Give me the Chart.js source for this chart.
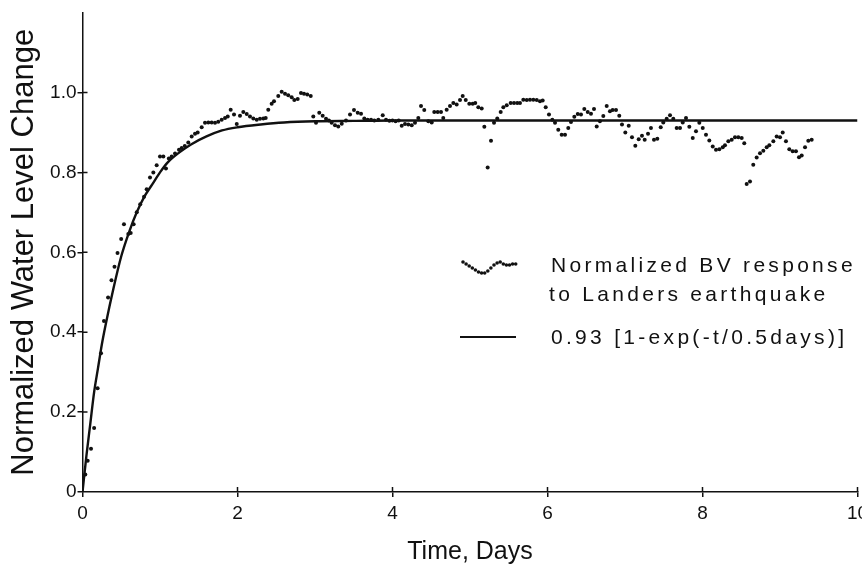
<!DOCTYPE html>
<html>
<head>
<meta charset="utf-8">
<script src="https://cdn.jsdelivr.net/npm/chart.js@4/dist/chart.umd.min.js"></script>
<style>
  html, body { margin: 0; padding: 0; background: #fff; }
  #wrap { width: 862px; height: 567px; }
</style>
</head>
<body>
<div id="wrap"><canvas id="myChart" width="862" height="567"></canvas></div>
<script>
// hourly water level readings (days, normalized)
const bvTime = [
  0.036, 0.067, 0.11, 0.15, 0.195, 0.239, 0.277, 0.33, 0.374, 0.413, 0.452, 0.499, 0.535, 0.591, 0.622,
  0.66, 0.70, 0.745, 0.794, 0.828, 0.871, 0.914, 0.957, 1.0, 1.043, 1.077, 1.114, 1.151, 1.194, 1.245,
  1.28, 1.32, 1.365, 1.409, 1.452, 1.486, 1.538, 1.581, 1.623, 1.667, 1.71, 1.752, 1.796, 1.839, 1.874,
  1.912, 1.955, 1.99, 2.032, 2.075, 2.119, 2.161, 2.204, 2.248, 2.29, 2.333, 2.364, 2.397, 2.441, 2.471,
  2.526, 2.57, 2.613, 2.655, 2.699, 2.733, 2.777, 2.819, 2.858, 2.9, 2.945, 2.978, 3.013, 3.055, 3.099,
  3.142, 3.18, 3.215, 3.258, 3.30, 3.345, 3.40, 3.452, 3.503, 3.551, 3.594, 3.636, 3.68, 3.723, 3.765,
  3.817, 3.874, 3.916, 3.96, 4.0, 4.04, 4.08, 4.119, 4.161, 4.204, 4.248, 4.29, 4.333, 4.368, 4.41,
  4.462, 4.506, 4.539, 4.583, 4.626, 4.655, 4.699, 4.742, 4.785, 4.828, 4.871, 4.906, 4.945, 4.991, 5.035,
  5.068, 5.107, 5.151, 5.185, 5.228, 5.271, 5.31, 5.352, 5.396, 5.43, 5.474, 5.525, 5.568, 5.61, 5.645,
  5.688, 5.732, 5.774, 5.817, 5.861, 5.903, 5.938, 5.977, 6.019, 6.062, 6.097, 6.139, 6.183, 6.226, 6.268,
  6.303, 6.346, 6.39, 6.432, 6.475, 6.519, 6.561, 6.6, 6.635, 6.677, 6.72, 6.764, 6.806, 6.841, 6.884,
  6.926, 6.961, 7.004, 7.048, 7.09, 7.133, 7.177, 7.219, 7.254, 7.297, 7.335, 7.374, 7.417, 7.461, 7.494,
  7.538, 7.581, 7.623, 7.667, 7.71, 7.745, 7.787, 7.83, 7.874, 7.916, 7.959, 8.003, 8.045, 8.088, 8.132,
  8.174, 8.217, 8.261, 8.29, 8.333, 8.377, 8.419, 8.462, 8.506, 8.539, 8.57, 8.613, 8.655, 8.699, 8.742,
  8.785, 8.828, 8.862, 8.914, 8.957, 9.0, 9.035, 9.077, 9.12, 9.164, 9.206, 9.245, 9.28, 9.323, 9.365, 9.409
]
const bvLevel = [
  0.044, 0.078, 0.108, 0.16, 0.26, 0.347, 0.428, 0.487, 0.53, 0.564, 0.598, 0.633, 0.670, 0.646, 0.648,
  0.67, 0.70, 0.72, 0.739, 0.758, 0.787, 0.80, 0.818, 0.84, 0.84, 0.81, 0.835, 0.84, 0.847, 0.857,
  0.861, 0.866, 0.875, 0.89, 0.897, 0.90, 0.913, 0.924, 0.925, 0.925, 0.924, 0.927, 0.932, 0.936, 0.94,
  0.957, 0.945, 0.921, 0.942, 0.951, 0.946, 0.94, 0.935, 0.932, 0.934, 0.935, 0.936, 0.957, 0.972, 0.978,
  0.991, 1.002, 0.997, 0.993, 0.988, 0.981, 0.984, 0.999, 0.997, 0.995, 0.991, 0.94, 0.924, 0.949, 0.942,
  0.934, 0.93, 0.924, 0.918, 0.915, 0.922, 0.93, 0.945, 0.956, 0.949, 0.947, 0.935, 0.932, 0.932, 0.930,
  0.932, 0.943, 0.932, 0.929, 0.93, 0.928, 0.93, 0.917, 0.921, 0.920, 0.918, 0.924, 0.936, 0.966, 0.956,
  0.928, 0.925, 0.951, 0.951, 0.951, 0.936, 0.957, 0.966, 0.974, 0.970, 0.981, 0.991, 0.981, 0.972, 0.972,
  0.974, 0.963, 0.960, 0.914, 0.812, 0.879, 0.924, 0.935, 0.951, 0.963, 0.968, 0.974, 0.974, 0.974, 0.974,
  0.982, 0.981, 0.982, 0.982, 0.981, 0.978, 0.980, 0.963, 0.945, 0.932, 0.924, 0.907, 0.894, 0.894, 0.911,
  0.926, 0.939, 0.946, 0.945, 0.959, 0.951, 0.947, 0.959, 0.915, 0.928, 0.941, 0.966, 0.953, 0.956, 0.956,
  0.942, 0.920, 0.900, 0.917, 0.888, 0.867, 0.883, 0.892, 0.882, 0.897, 0.911, 0.882, 0.884, 0.913, 0.925,
  0.934, 0.943, 0.934, 0.911, 0.911, 0.925, 0.936, 0.914, 0.886, 0.903, 0.924, 0.911, 0.894, 0.880, 0.865,
  0.857, 0.858, 0.863, 0.868, 0.878, 0.882, 0.888, 0.888, 0.886, 0.873, 0.771, 0.777, 0.819, 0.837, 0.848,
  0.854, 0.863, 0.868, 0.878, 0.890, 0.888, 0.900, 0.878, 0.858, 0.853, 0.853, 0.838, 0.842, 0.863, 0.879, 0.882
]

// fitted curve as drawn in the figure
const fitTime  = [0, 0.05, 0.1, 0.15, 0.2, 0.25, 0.3, 0.4, 0.5, 0.6, 0.7, 0.8, 0.9, 1.0, 1.1, 1.25, 1.4, 1.6, 1.8, 2.0, 2.3, 2.6, 3.0, 3.5, 4, 6, 8, 10]
const fitLevel = [0, 0.09, 0.17, 0.25, 0.31, 0.37, 0.42, 0.51, 0.59, 0.65, 0.70, 0.74, 0.77, 0.80, 0.825, 0.85, 0.87, 0.89, 0.905, 0.913, 0.92, 0.925, 0.928, 0.929, 0.93, 0.93, 0.93, 0.93]

const xTicks = [0, 2, 4, 6, 8, 10]
const yTicks = [0, 0.2, 0.4, 0.6, 0.8, 1.0]

const legendLabels = ["Normalized BV response", "to Landers earthquake", "0.93 [1-exp(-t/0.5days)]"]
// little wiggle used for the dotted legend sample
const legendWave = [0, 2, 4, 6, 8, 10, 11, 11, 9, 6, 3, 1, 0, 2, 3, 3, 2, 2]

const FONT = "'Liberation Sans', Arial, Helvetica, sans-serif"
const INK = "#111"

function pts(xs, ys){
    const out = []
    for (let i in xs){
        out.push({x: xs[i], y: ys[i]})
    }
    return out
}

// ticks that cross the axis line + the hand-made legend
const extras = {
    id: "extras",
    afterDraw(chart){
        const ctx = chart.ctx
        const xs = chart.scales.x, ys = chart.scales.y
        const area = chart.chartArea
        ctx.save()
        ctx.strokeStyle = INK
        ctx.lineWidth = 1.5
        ctx.beginPath()
        for (const v of yTicks){
            if (v == 0) continue
            const py = ys.getPixelForValue(v)
            ctx.moveTo(area.left, py)
            ctx.lineTo(area.left + 5, py)
        }
        for (const v of xTicks){
            if (v == 0) continue
            const px = xs.getPixelForValue(v)
            ctx.moveTo(px, area.bottom)
            ctx.lineTo(px, area.bottom - 5)
        }
        ctx.stroke()

        // legend
        ctx.fillStyle = INK
        for (let i = 0; i < legendWave.length; i++){
            ctx.beginPath()
            ctx.arc(463 + i * 3.1, 262 + legendWave[i], 1.8, 0, Math.PI * 2)
            ctx.fill()
        }
        ctx.lineWidth = 2.2
        ctx.beginPath()
        ctx.moveTo(460, 337)
        ctx.lineTo(516, 337)
        ctx.stroke()

        ctx.font = "21px " + FONT
        ctx.textBaseline = "middle"
        ctx.textAlign = "left"
        ctx.letterSpacing = "3.3px"
        ctx.fillText(legendLabels[0], 551, 266)
        ctx.fillText(legendLabels[1], 549, 295)
        ctx.fillText(legendLabels[2], 551, 338)
        ctx.letterSpacing = "0px"
        ctx.restore()
    }
}

function noPad(scale){
    scale.paddingLeft = 0
    scale.paddingRight = 0
    scale.paddingTop = 0
    scale.paddingBottom = 0
}

new Chart("myChart", {
    type: "scatter",
    data: {
        datasets: [{
            label: "fit",
            type: "line",
            data: pts(fitTime, fitLevel),
            borderColor: INK,
            borderWidth: 2.4,
            pointRadius: 0,
            cubicInterpolationMode: "monotone",
            fill: false
        }, {
            label: "BV",
            data: pts(bvTime, bvLevel),
            backgroundColor: INK,
            borderWidth: 0,
            pointRadius: 2
        }]
    },
    options: {
        responsive: false,
        animation: false,
        layout: { padding: { top: 12.6, right: 4.5, left: 0, bottom: 0 } },
        plugins: { legend: { display: false }, tooltip: { enabled: false } },
        scales: {
            x: {
                type: "linear",
                min: 0, max: 10,
                afterBuildTicks: (s) => { s.ticks = xTicks.map(v => ({value: v})) },
                afterFit: (s) => { s.height = 75; noPad(s) },
                border: { color: INK, width: 1.5 },
                grid: { drawOnChartArea: false, color: INK, lineWidth: 1.5, tickLength: 5 },
                ticks: {
                    color: INK, padding: 5, maxRotation: 0,
                    font: { family: FONT, size: 19 },
                    callback: (v) => String(v)
                },
                title: {
                    display: true, text: "Time, Days", color: INK,
                    font: { family: FONT, size: 25 },
                    padding: { top: 0, bottom: 0 }
                }
            },
            y: {
                type: "linear",
                min: 0, max: 1.2,
                afterBuildTicks: (s) => { s.ticks = yTicks.map(v => ({value: v})) },
                afterFit: (s) => { s.width = 82.5; noPad(s) },
                border: { color: INK, width: 1.5 },
                grid: { drawOnChartArea: false, color: INK, lineWidth: 1.5, tickLength: 5 },
                ticks: {
                    color: INK, padding: 1,
                    font: { family: FONT, size: 19 },
                    callback: (v) => v == 0 ? "0" : v.toFixed(1)
                },
                title: {
                    display: true, text: "Normalized Water Level Change", color: INK,
                    font: { family: FONT, size: 31 },
                    padding: { top: 6, bottom: 0 }
                }
            }
        }
    },
    plugins: [extras]
})
</script>
</body>
</html>
